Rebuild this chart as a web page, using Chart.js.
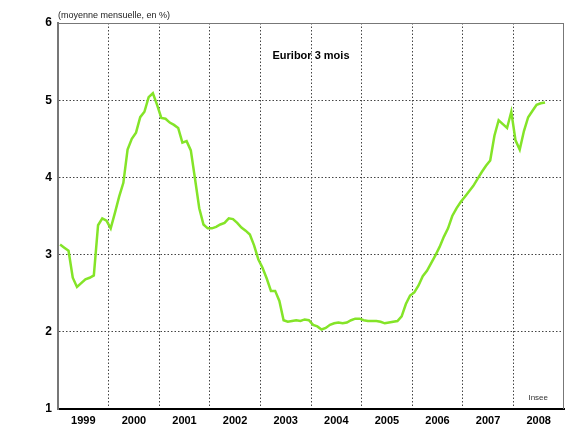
<!DOCTYPE html>
<html><head><meta charset="utf-8">
<script src="https://cdn.jsdelivr.net/npm/chart.js@4"></script>
<style>html,body{margin:0;padding:0;background:#fff}#wrap{width:569px;height:430px;position:relative}</style>
</head><body><div id="wrap"><canvas id="c" width="569" height="430"></canvas></div>
<script>
// Tick labels (years, centred in each year band)
const years = ['1999','2000','2001','2002','2003','2004','2005','2006','2007','2008'];
const yTicks = [1, 2, 3, 4, 5, 6];
// Euribor 3 mois, moyenne mensuelle (%), Jan 1999 - Aug 2008
const euribor = [
  3.13, 3.09, 3.05, 2.70, 2.58, 2.63, 2.68, 2.70, 2.73, 3.38, 3.47, 3.44,
  3.34, 3.54, 3.75, 3.93, 4.36, 4.50, 4.58, 4.78, 4.85, 5.04, 5.09, 4.94,
  4.77, 4.76, 4.71, 4.68, 4.64, 4.45, 4.47, 4.35, 3.98, 3.60, 3.39, 3.34,
  3.34, 3.36, 3.39, 3.41, 3.47, 3.46, 3.41, 3.35, 3.31, 3.26, 3.12, 2.94,
  2.83, 2.69, 2.53, 2.53, 2.40, 2.15, 2.13, 2.14, 2.15, 2.14, 2.16, 2.15,
  2.09, 2.07, 2.03, 2.05, 2.09, 2.11, 2.12, 2.11, 2.12, 2.15, 2.17, 2.17,
  2.15, 2.14, 2.14, 2.14, 2.13, 2.11, 2.12, 2.13, 2.14, 2.20, 2.36, 2.47,
  2.51, 2.60, 2.72, 2.79, 2.89, 2.99, 3.10, 3.23, 3.34, 3.50, 3.60, 3.68,
  3.75, 3.82, 3.89, 3.98, 4.07, 4.15, 4.22, 4.54, 4.74, 4.69, 4.64, 4.85,
  4.48, 4.36, 4.60, 4.78, 4.86, 4.94, 4.96, 4.97
];
const monthsPerYear = 12;
const totalMonths = years.length * monthsPerYear;
// each monthly value sits in the middle of its month band
const points = euribor.map((v, i) => ({ x: i + 0.5, y: v }));

const FONT = "'Liberation Sans', Arial, sans-serif";

const decor = {
  id: 'decor',
  beforeDraw(chart) {
    const ctx = chart.ctx;
    ctx.save();
    ctx.fillStyle = '#fff';
    ctx.fillRect(0, 0, chart.width, chart.height);
    ctx.restore();
  },
  afterDraw(chart) {
    const { ctx, chartArea: a } = chart;
    ctx.save();
    ctx.strokeStyle = '#777';
    ctx.lineWidth = 1;
    ctx.beginPath();
    ctx.moveTo(a.left, a.top + 0.5); ctx.lineTo(a.right, a.top + 0.5);
    ctx.moveTo(a.right - 0.5, a.top); ctx.lineTo(a.right - 0.5, a.bottom);
    ctx.stroke();
    ctx.textBaseline = 'middle';
    ctx.fillStyle = '#222';
    ctx.font = '9px ' + FONT;
    ctx.textAlign = 'left';
    ctx.fillText('(moyenne mensuelle, en %)', a.left, a.top - 7);
    ctx.fillStyle = '#000';
    ctx.font = 'bold 11px ' + FONT;
    ctx.textAlign = 'center';
    ctx.fillText('Euribor 3 mois', (a.left + a.right) / 2, a.top + 33);
    ctx.fillStyle = '#333';
    ctx.font = '8px ' + FONT;
    ctx.fillText('Insee', a.left + (a.right - a.left) * 0.949, a.bottom - 11);
    ctx.restore();
  }
};

new Chart(document.getElementById('c'), {
  type: 'line',
  data: {
    datasets: [{
      label: 'Euribor 3 mois',
      data: points,
      borderColor: '#84E428',
      borderWidth: 2.5,
      pointRadius: 0,
      tension: 0,
      fill: false
    }]
  },
  options: {
    responsive: false,
    devicePixelRatio: 1,
    animation: false,
    layout: { padding: { top: 23, right: 1, left: 0, bottom: 0 } },
    plugins: { legend: { display: false }, tooltip: { enabled: false } },
    scales: {
      x: {
        type: 'linear',
        min: 0,
        max: totalMonths,
        afterFit(s) { s.height = 21; },
        afterBuildTicks(s) {
          const t = [];
          for (let v = 0; v <= totalMonths; v += monthsPerYear / 2) t.push({ value: v });
          s.ticks = t;
        },
        ticks: {
          autoSkip: false,
          maxRotation: 0,
          padding: 5,
          color: '#000',
          font: { family: FONT, size: 11, weight: 'bold' },
          callback(v) {
            return (v % monthsPerYear === monthsPerYear / 2) ? years[(v - monthsPerYear / 2) / monthsPerYear] : '';
          }
        },
        grid: {
          drawTicks: false,
          lineWidth: 1,
          color(ctx) {
            const v = ctx.tick && ctx.tick.value;
            return (v % monthsPerYear === 0 && v > 0 && v < totalMonths) ? '#444' : 'rgba(0,0,0,0)';
          }
        },
        border: { display: true, color: '#000', width: 2, dash: [1.5, 2] }
      },
      y: {
        min: yTicks[0],
        max: yTicks[yTicks.length - 1],
        afterFit(s) { s.width = 58; },
        afterBuildTicks(s) { s.ticks = yTicks.map(v => ({ value: v })); },
        ticks: {
          padding: 6,
          color: '#000',
          font: { family: FONT, size: 12, weight: 'bold' }
        },
        grid: {
          drawTicks: false,
          lineWidth: 1,
          color(ctx) {
            const v = ctx.tick && ctx.tick.value;
            return (v > yTicks[0] && v < yTicks[yTicks.length - 1]) ? '#444' : 'rgba(0,0,0,0)';
          }
        },
        border: { display: true, color: '#777', width: 2, dash: [1.5, 2] }
      }
    }
  },
  plugins: [decor]
});
</script>
</body></html>
